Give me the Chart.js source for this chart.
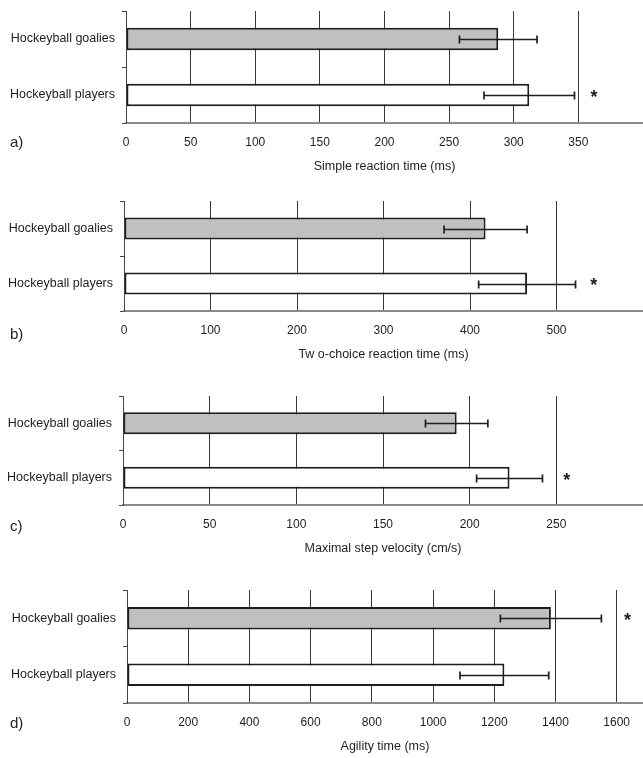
<!DOCTYPE html>
<html>
<head>
<meta charset="utf-8">
<script src="https://cdn.jsdelivr.net/npm/chart.js@4"></script>
<style>
    body { margin: 0; background: #fff; width: 643px; height: 758px; position: relative; overflow: hidden; }
    .panel { position: absolute; left: 0; width: 643px; }
</style>
</head>
<body>
<div class="panel" style="top:1px"><canvas id="chartA" width="643" height="177"></canvas></div>
<div class="panel" style="top:191px"><canvas id="chartB" width="643" height="175"></canvas></div>
<div class="panel" style="top:386px"><canvas id="chartC" width="643" height="174"></canvas></div>
<div class="panel" style="top:580px"><canvas id="chartD" width="643" height="178"></canvas></div>
<script>

var categories = ['Hockeyball goalies', 'Hockeyball players'];
var panelLetters = ['a)', 'b)', 'c)', 'd)'];
var axisTitles = ['Simple reaction time (ms)', 'Tw o-choice reaction time (ms)', 'Maximal step velocity (cm/s)', 'Agility time (ms)'];

// mean and SD, goalies first, players second
var simpleMean = [288, 312];
var simpleSd = [30, 35];
var choiceMean = [418, 466];
var choiceSd = [48, 56];
var velocityMean = [192.5, 223];
var velocitySd = [18, 19];
var agilityMean = [1385, 1233];
var agilitySd = [165, 145];

var simpleTicks = [0, 50, 100, 150, 200, 250, 300, 350];
var choiceTicks = [0, 100, 200, 300, 400, 500];
var velocityTicks = [0, 50, 100, 150, 200, 250];
var agilityTicks = [0, 200, 400, 600, 800, 1000, 1200, 1400, 1600];
var axisMax = [400, 600, 300, 1686];

// significance marks: value on the x scale and row they sit on
var starValue = [362, 543, 256, 1635];
var starRow = [1, 1, 1, 0];

var FONT = "'Liberation Sans', Arial, sans-serif";
var INK = '#1e1e1e';

var extras = {
    id: 'extras',
    afterDatasetsDraw: function (chart, args, opts) {
        var ctx = chart.ctx;
        var x = chart.scales.x;
        var y = chart.scales.y;
        ctx.save();
        ctx.strokeStyle = INK;
        ctx.lineWidth = 1.7;
        opts.means.forEach(function (m, i) {
            var lo = x.getPixelForValue(m - opts.sd[i]);
            var hi = x.getPixelForValue(m + opts.sd[i]);
            var py = Math.round(y.getPixelForValue(i)) + 0.5;
            ctx.beginPath();
            ctx.moveTo(lo, py); ctx.lineTo(hi, py);
            ctx.moveTo(lo, py - 4); ctx.lineTo(lo, py + 4);
            ctx.moveTo(hi, py - 4); ctx.lineTo(hi, py + 4);
            ctx.stroke();
        });
        ctx.fillStyle = INK;
        ctx.textAlign = 'center';
        ctx.textBaseline = 'middle';
        ctx.font = 'bold 18px ' + FONT;
        ctx.fillText('*', x.getPixelForValue(opts.star), y.getPixelForValue(opts.starRow) + 3);
        ctx.font = '15px ' + FONT;
        ctx.textAlign = 'left';
        ctx.fillText(opts.letter, 10, chart.chartArea.bottom + opts.letterDy);
        ctx.restore();
    }
};

function makeChart(id, idx, means, sds, ticks, left, letterDy) {
    var ctx = document.getElementById(id).getContext('2d');
    return new Chart(ctx, {
        type: 'bar',
        data: {
            labels: categories,
            datasets: [{
                data: means,
                backgroundColor: ['#c0c0c0', '#ffffff'],
                borderColor: '#1e1e1e',
                borderWidth: 2,
                borderSkipped: false,
                barPercentage: 0.4,
                categoryPercentage: 1
            }]
        },
        options: {
            indexAxis: 'y',
            responsive: false,
            animation: false,
            layout: { padding: { top: 10, right: 0, bottom: 0, left: 0 } },
            plugins: {
                legend: { display: false },
                tooltip: { enabled: false },
                extras: { means: means, sd: sds, star: starValue[idx], starRow: starRow[idx], letter: panelLetters[idx], letterDy: letterDy }
            },
            scales: {
                x: {
                    min: 0,
                    max: axisMax[idx],
                    afterBuildTicks: function (scale) {
                        scale.ticks = ticks.map(function (v) { return { value: v }; });
                    },
                    afterFit: function (scale) { scale.height = 55; },
                    grid: { color: '#3a3a3a', lineWidth: 1, drawTicks: false },
                    border: { color: '#8a8a8a', width: 2 },
                    ticks: {
                        color: INK, padding: 12, font: { family: FONT, size: 12 }, maxRotation: 0, autoSkip: false,
                        callback: function (v) { return String(v); }
                    },
                    title: { display: true, text: axisTitles[idx], color: INK, font: { family: FONT, size: 12.5 }, padding: { top: 0, bottom: 4 } }
                },
                y: {
                    afterFit: function (scale) {
                        scale.width = left;
                        scale.paddingTop = 0;
                        scale.paddingBottom = 0;
                    },
                    grid: { drawOnChartArea: false, tickLength: 4, color: '#444' },
                    border: { color: '#444', width: 1 },
                    ticks: { color: INK, padding: 7, font: { family: FONT, size: 12.5 } }
                }
            }
        },
        plugins: [extras]
    });
}

makeChart('chartA', 0, simpleMean, simpleSd, simpleTicks, 126, 20);
makeChart('chartB', 1, choiceMean, choiceSd, choiceTicks, 124, 24);
makeChart('chartC', 2, velocityMean, velocitySd, velocityTicks, 123, 22);
makeChart('chartD', 3, agilityMean, agilitySd, agilityTicks, 127, 21);

</script>
</body>
</html>
